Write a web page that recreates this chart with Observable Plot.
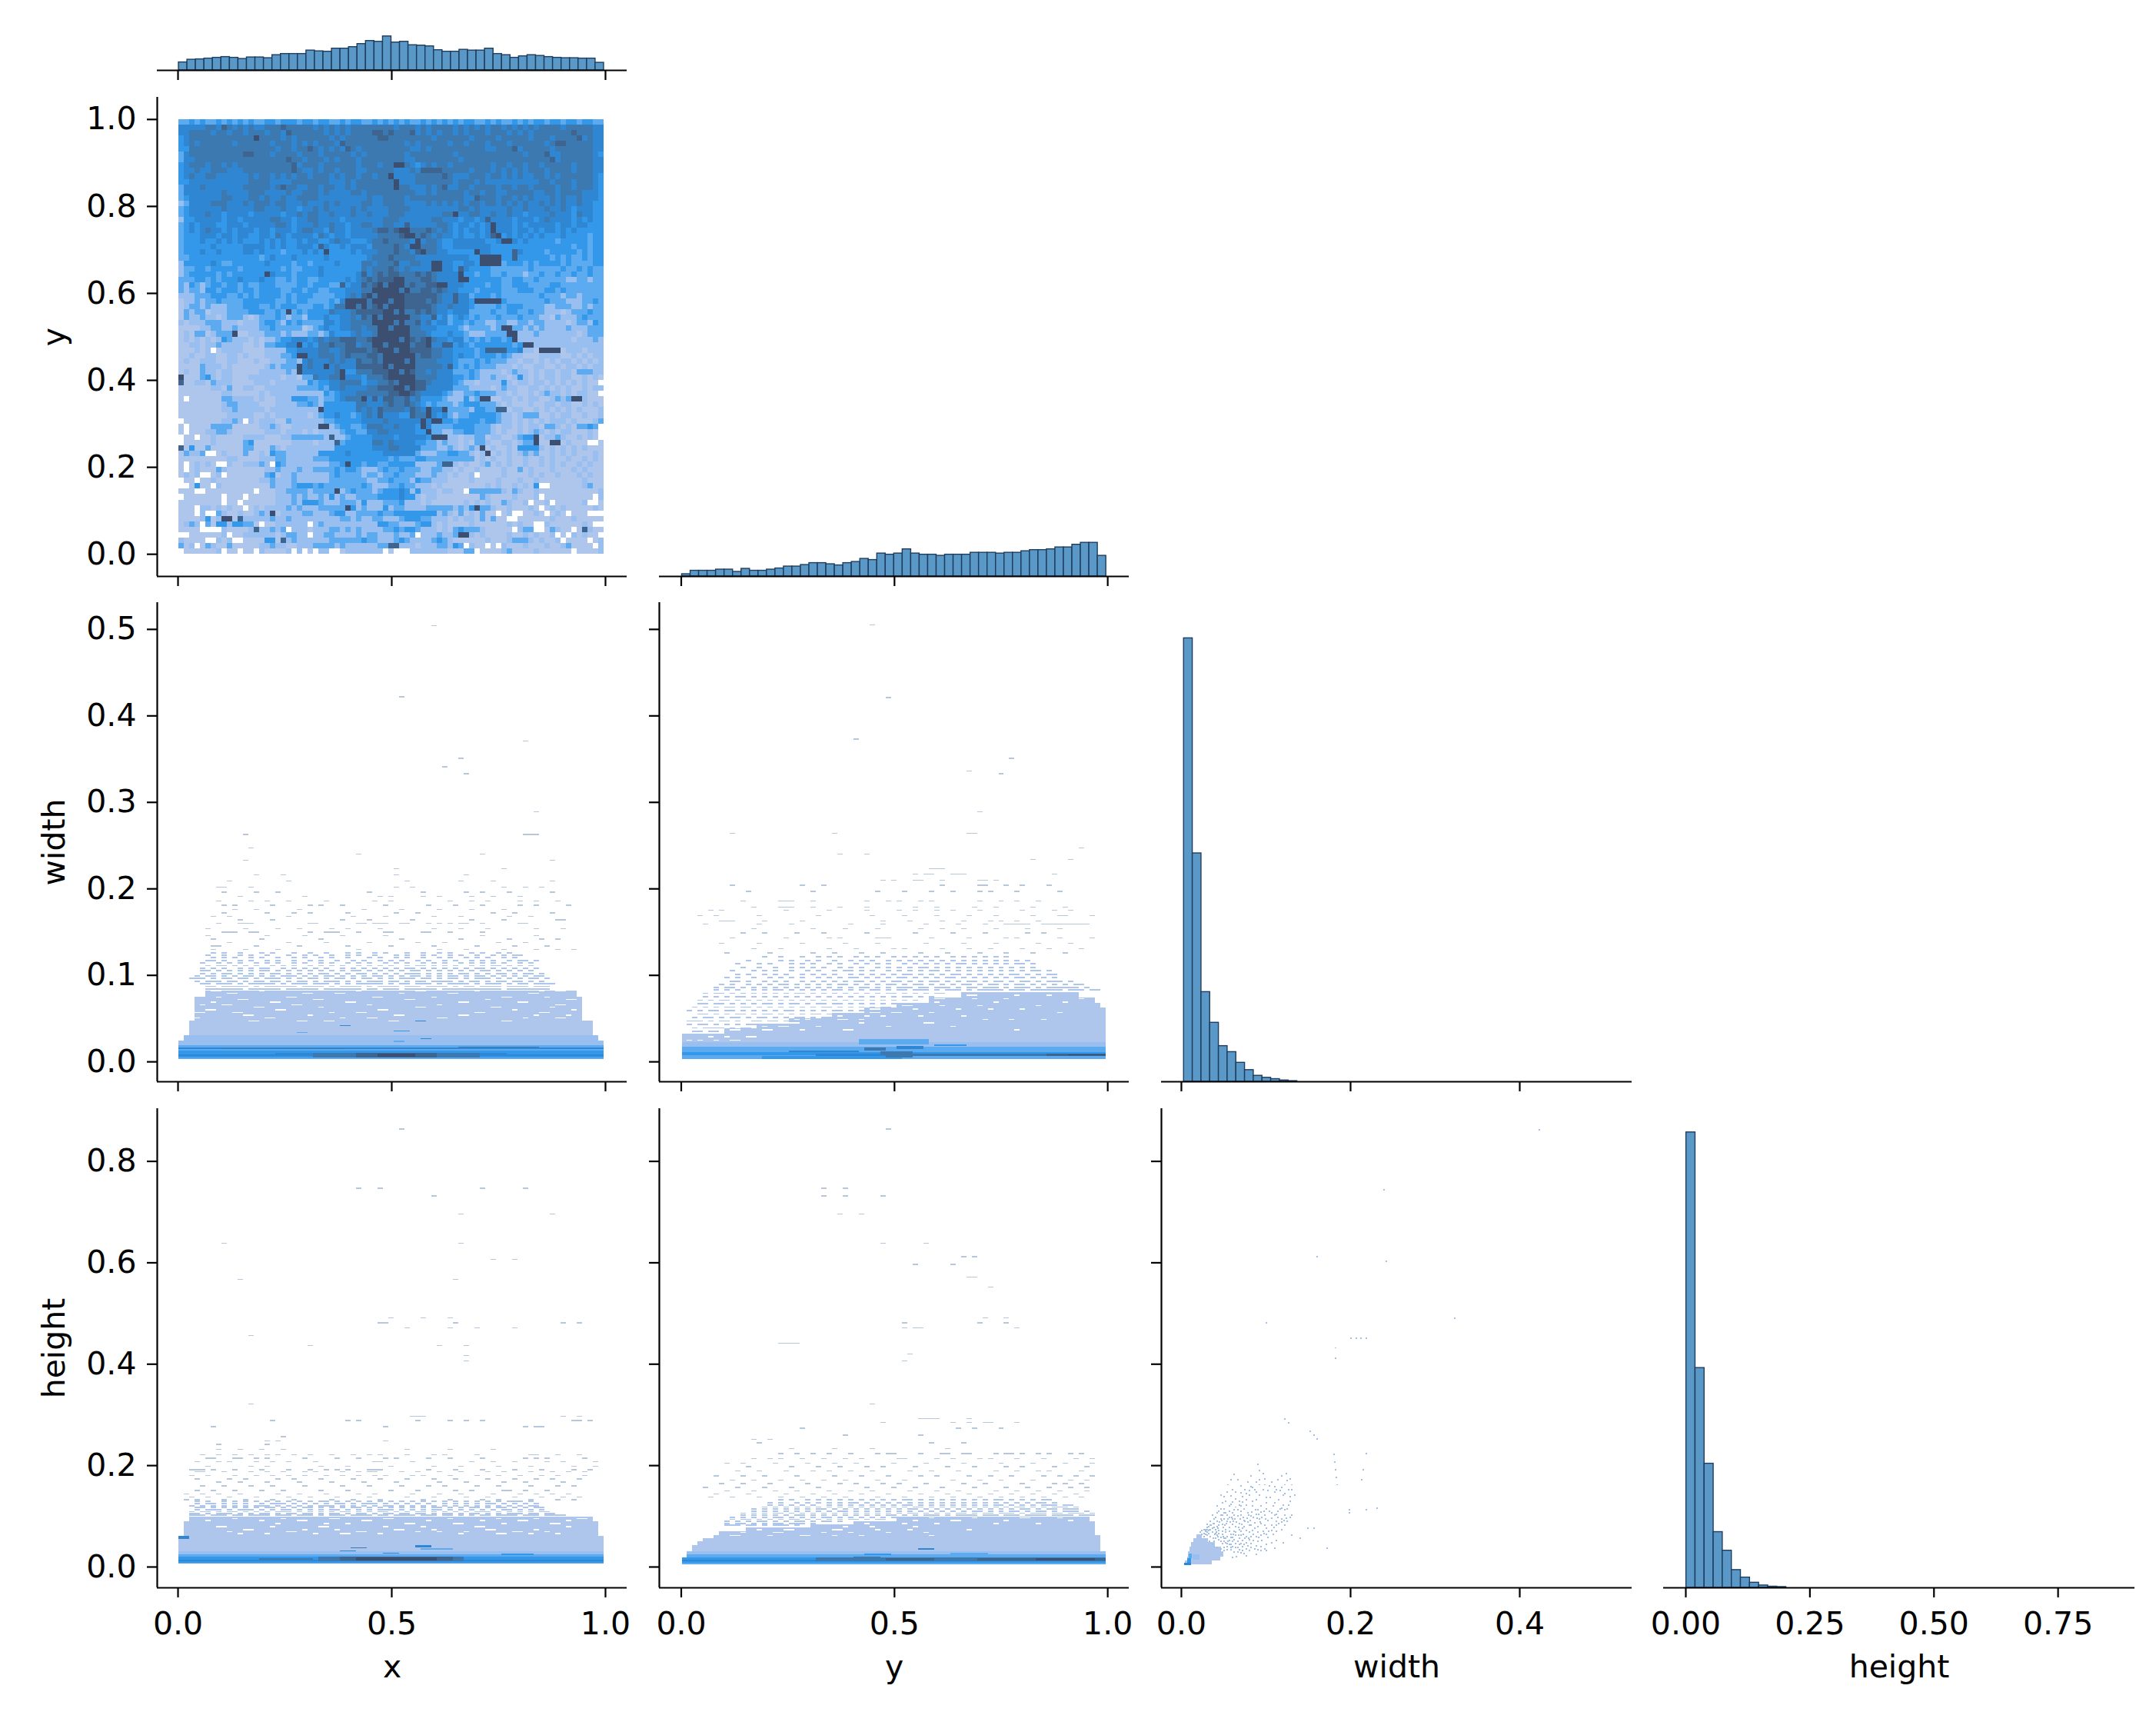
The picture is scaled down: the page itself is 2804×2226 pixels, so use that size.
<!DOCTYPE html>
<html><head><meta charset="utf-8">
<script src="https://cdn.jsdelivr.net/npm/d3@7"></script>
<script src="https://cdn.jsdelivr.net/npm/@observablehq/plot@0.6"></script>
<style>html,body{margin:0;padding:0;background:#fff}#c{position:relative;width:2804px;height:2226px;overflow:hidden}#c svg{position:absolute;overflow:visible}</style>
</head><body><div id="c"></div><script>
// ---- histogram heights (arbitrary count units)
const histX=[21,28,29,31,33,35,33,30,34,34,32,40,43,43,43,52,50,49,57,57,61,69,77,75,89,73,75,66,65,63,53,49,49,54,52,52,57,43,40,33,37,40,38,35,33,32,32,31,31,20];
const histY=[6,15,15,15,18,18,12,20,15,15,18,21,26,26,30,35,35,32,29,35,38,46,43,60,57,60,71,60,57,57,54,57,57,57,62,62,62,60,62,62,66,69,69,71,76,76,83,88,88,54];
const histW=[1330,685,269,177,107,89,57,35,18,12,8,4,2];
const histH=[1152,556,314,141,94,45,26,13,6,3,2];
// ---- x / y 2-D histogram: one string per y bin, top row first; one char per x bin (colour level)
const xyGrid=[
"3343433434 3434334434 4434434433 4344334343 4343343434 3434433434 3343434434 434434433",
"5555566556 5656556666 6666656565 6566666666 5666565666 6565656566 5656565666 656666655",
"5566665665 6656665665 6666666565 6566667766 6665565656 6565666566 6565656666 666666655",
"4566666666 6666666665 6566666656 5666666676 6666666566 6666566665 6666656665 666665655",
"4565666666 5666666566 6565656665 6666666666 6656566666 5665666566 6566666656 666666655",
"4466666666 6666666656 6566665656 5565666666 6665565666 6666666556 6665666665 666666655",
"3566666666 6666666566 6656665666 6656566666 6656666666 6566666666 6666566665 566666654",
"3556666666 6666666666 6665666565 6665666666 6655666666 6656666666 6666666666 566666655",
"4566656656 5666666666 6656665666 6665666566 6665456566 5666666656 6566566566 666566655",
"4556556665 5566666666 6565565665 6665566666 5556566666 6666566656 5656566656 666566655",
"4565566555 5556566565 6566566656 5665665666 5555666666 6555666566 5656556656 566666654",
"4455555555 5556666555 5666666655 5656666666 6555666666 6566656555 5555555665 666566654",
"3555655555 5566666565 6655665665 5656666666 6665556566 5566566665 6656656666 566566654",
"3555555565 5556665555 6556665655 5566566666 6666556566 6665665665 5666665566 566665554",
"3455555566 5556656556 5566665555 5555565566 6656666666 6665556665 6656565556 565565554",
"2355556665 5565666566 5556555656 5555665566 6655556565 6565665665 6565655656 565565544",
"3455555565 5555665556 5545565655 5565655556 6665555555 5566565555 5655655565 565455544",
"3455565545 5554555554 5565665565 5565565556 6655555556 6655665565 5655455556 555465544",
"2445555545 5455555665 5455665555 4555555566 6555555665 5545545455 5545554565 555454544",
"3454555445 5545555566 5455565565 5455665566 5565555566 5455454545 5545455555 455455444",
"3454565545 4555455455 5456655465 5455556665 6555556656 5454554545 5545545455 454544444",
"3444555455 4554455465 4555546545 5455555555 5555565565 5454454544 4545454544 454444344",
"3444544545 4544454545 4454554456 5544455565 5554545554 4555555445 5454544444 344444344",
"3444445444 4455554545 4455545544 5455545555 6545555554 4555555544 4444444444 444344344",
"3444544544 4455454443 4445454444 4454554555 6554545544 4444445544 4445444434 444434344",
"3344444444 4444434544 4544444544 4444455555 5555444444 5555444444 4444444443 434334344",
"2444445433 4444445444 4344344445 4444554555 5445544444 4445544443 3444343444 434333344",
"2334434444 4344444443 4334445444 4444545554 5454444444 4445444433 3333343333 343343433",
"2344444343 4444445544 4344445444 4444445445 5444544444 4444434433 4333233433 433433433",
"3334434344 4544454433 4344334444 4544545555 5444454444 4434444444 3344334333 332233233",
"3243234434 4343344433 3344344433 4344545555 5545445544 4444444344 3344433334 433333333",
"3233244344 4344344443 3443443344 3444544555 5554455455 4434434444 3334443344 343333333",
"2223334443 3434344443 4344433334 3454544555 5555555544 4444344434 3333333433 323323333",
"1223233433 3344444433 4344333343 4454544555 5555554544 4444444334 4333333343 332223343",
"1233232223 3344433434 4433344335 5554445556 5555555444 5444433334 3444333322 333223233",
"1323312223 3334443343 3343444454 4455555555 5444444444 3444333343 3443343322 212333433",
"1322322123 3321233343 2332444433 4443444555 5544433434 2344343334 3334333221 322234333",
"2122233322 2122234432 4343333443 4444444454 5544434344 2333433223 3223323322 221233243",
"1111223322 3222233433 3331234433 4444344454 4554433433 3322333323 3333232322 223222333",
"1213312333 1112223332 3222332243 3334334455 4444443333 4333222333 3222223222 222212333",
"1212121243 2221212234 4555455455 6554455556 5655454444 3443434344 3432222222 222122232",
"1122122322 2211213344 5554545565 5553445555 5655554344 3344344444 4434222222 222222222",
"1112121122 2211112222 4455545544 5555645555 5555555454 4334434544 4445221122 212221222",
"1121122112 2121112223 3455545554 5544455555 5554455454 4344434443 4322111222 211212122",
"1211222112 2111211222 3324544454 5445445455 5555444544 4433343433 3221221212 122121212",
"1111322212 1111112323 3334544445 4445555555 5555444554 4434343332 2212112211 212212122",
"1211322122 1111122222 3224444445 4335545554 5555444544 4333432222 1232212122 122133322",
"1111342122 1112222221 2212254455 5444344455 5555445544 4443432232 2124212122 122112121",
"1112213222 1111222122 2222434444 5555344445 5555555444 4432212222 4212212212 121212112",
"1111112213 1122112222 2233334344 5444455555 5555554444 4333222212 3221122121 212112122",
"1111111122 1111121222 2222222434 4445555545 5555444444 3223343332 2121121232 212122111",
"1111111133 2222121122 2444332334 4555444455 4433433333 2224233211 2212122112 323212111",
"1111111123 3222211122 2233432444 4445544455 4444332333 3234443332 1211121122 122112121",
"1111111122 3222221222 2222223444 4445454454 4433444453 3333244334 2122112121 212121112",
"1111111112 2222112122 2222123445 4434554544 4334554445 3233444443 2212333112 122112112",
"1111111122 3212122211 3222222334 4444544454 4444444444 4344443443 2212121212 221211123",
"1111113333 1111122321 1222223223 4433455544 5444334333 3444433321 2212122133 212133431",
"1111122332 1111112221 2221212222 3443344554 4444333332 2334433321 2112123212 122111212",
"1111112111 1122221112 2333333222 2344444444 3444444222 2212233122 1123443122 321121212",
"1111112111 1134111111 1222212223 3444445545 4444333323 2212133211 2212333112 212111121",
"5141131111 1133111321 2222222224 4444445545 5444433322 3212323121 1214444212 121212111",
"1322311121 1131121433 2222224444 4544444444 4444222233 4433212112 1212323112 121211121",
"1111111112 2111122233 2222233344 4444444443 4333443333 3333312121 1211211212 112112121",
"1212121122 1122232143 2222222233 4344344334 4444222232 1212112312 1211211212 121121211",
"1212111321 1111112232 2232233334 3443222343 3433322332 2121121111 2113121112 111212111",
"1212111221 1111113412 2322222234 3333233233 4333222322 1211211111 2111121211 211121211",
"1113112111 1111122322 2322222233 3333322334 3332433222 1111211112 1112112111 111112111",
"1114111211 1111111322 2344434333 3333432223 3433222121 1111111212 1121214111 111112311",
"1111111111 1111111122 3333233333 2343332344 4542422212 2113333333 2132112111 111111112",
"1111111111 1111111122 2323223242 3223333444 4544212211 1111113211 1121112111 111111112",
"1111111111 1111111122 2324443222 3332422233 3422212111 1112121211 3211211121 111112111",
"1112221212 1121212222 3232223333 3342322242 3322223333 3232433321 1211121112 121111121",
"1112211321 1211232112 2223322234 4223333433 4444444423 2131213112 1251112111 211111212",
"1111241211 1122222322 3222222222 3323223322 2344433222 1212213131 1211111112 111211111",
"1232131442 4433111122 2222223222 2222222443 3222344212 1111211111 1212111121 111112111",
"1111113221 1112122323 2222122233 2323222233 4344322212 1343332111 1132332113 211111211",
"1111111122 1122222212 3322222332 2223233222 3223322232 2323212111 1211212112 111212111",
"2111111212 1111114412 2322222233 3333433222 3432222343 2111111211 1233321211 211111112",
"3121132113 1111122322 1122233332 3222222333 2222122233 2433211111 2111211121 123111112",
"1111111211 1111121111 2222112221 1222222211 1112222222 1113321111 2311112111 111111112"];
// rows whose bins are one colour step darker: [row,from,to]
const xyRaised=[[20,37,46],[21,37,46],[22,36,47],[23,36,47],[24,36,49],[25,36,49],[26,34,50],[27,34,50],[28,33,52],[29,33,52],[30,30,52],[31,30,52],[32,30,53],[33,30,53],[34,28,53],[35,28,53],[36,27,52],[37,27,52],[38,27,52],[39,27,52],[40,26,52],[41,26,52],[42,25,52],[43,25,52],[44,23,50],[45,23,50],[46,23,50],[47,23,50],[48,28,50],[49,28,50],[50,30,48],[51,30,48],[52,33,47],[53,33,47],[54,35,47],[55,35,47],[56,35,46],[57,35,46],[58,36,45],[59,36,45],[60,38,44],[61,38,44]];
const xyRaisedCentre=[[28,37,47],[29,37,47],[30,35,48],[31,35,48],[32,34,48],[33,34,48],[34,33,47],[35,33,47],[36,32,46],[37,32,46],[38,32,46],[39,32,46],[40,31,47],[41,31,47],[42,31,47],[43,31,47],[44,33,46],[45,33,46],[46,35,45],[47,35,45],[48,37,45],[49,37,45],[50,38,44],[51,38,44],[52,39,44],[53,39,44]];
// rows with solid darkest runs: [row,from,to]
const xyCoreSpans=[[29,40,41],[30,37,41],[31,36,42],[32,35,41],[33,31,41],[34,31,34],[34,37,41],[35,38,41],[36,36,42],[37,36,42],[38,36,43],[39,36,42],[40,36,42],[41,36,43],[42,37,42],[43,37,43],[44,38,43],[45,38,43],[46,39,42],[47,39,43],[48,40,43],[49,40,43],[50,41,42]];
// lighter specks inside the darkest runs, [x bin, y bin]
const xyCoreSpecks=[[38,30],[41,31],[36,32],[39,33],[33,34],[40,35],[37,36],[42,37],[39,38],[36,39],[41,40],[38,41],[43,41],[40,42],[37,43],[42,44],[39,45],[41,46],[40,48],[42,49],[35,33],[38,34],[36,38],[40,37],[43,38]];
// cells overriding the grid, [x bin, y bin]
const xyDarkest=[[14,3],[27,24],[16,28],[10,39],[20,35],[22,41],[22,43],[23,43],[22,45],[22,46],[27,45],[30,46],[30,47],[0,47],[34,51],[26,53],[26,56],[27,56],[31,63],[29,68],[31,71],[8,73],[9,73],[17,72],[40,8],[41,8],[39,10],[40,11],[40,12],[51,17],[58,19],[58,20],[59,21],[60,22],[61,22],[55,24],[56,25],[57,25],[58,25],[59,25],[56,26],[57,26],[58,26],[59,26],[47,26],[48,26],[47,27],[48,27],[52,28],[52,29],[53,29],[48,30],[49,30],[55,33],[56,33],[57,33],[58,33],[59,33],[60,38],[61,38],[61,39],[62,39],[62,40],[64,41],[65,41],[67,42],[68,42],[69,42],[70,42],[56,51],[57,51],[46,40],[46,41],[46,53],[46,54],[47,55],[49,53],[45,55],[45,56],[46,57],[48,58],[49,58],[47,58],[48,55],[66,58],[66,59],[69,59],[70,59],[56,60],[57,61],[52,76],[53,76],[55,71],[73,51],[74,51],[42,21],[41,20],[42,20],[43,21],[44,22],[43,23],[44,23],[45,24]];
const xyDark=[[21,8],[21,9],[20,7],[19,12],[26,23],[30,30],[34,28],[35,29],[34,30],[37,28],[37,29],[37,30],[33,35],[34,36],[0,48],[36,51],[37,53],[37,54],[28,58],[29,59],[11,73],[14,75],[19,77],[0,60],[45,9],[46,9],[47,9],[48,9],[49,10],[49,12],[55,14],[57,18],[58,21],[42,19],[41,21],[44,24],[62,24],[62,25],[39,25],[40,26],[39,27],[40,28],[46,28],[46,29],[52,27],[51,32],[51,33],[43,34],[44,35],[45,34],[46,35],[47,36],[44,37],[49,41],[50,41],[57,42],[58,42],[59,42],[60,42],[50,45],[40,49],[42,51],[42,52],[43,53],[43,54],[59,53],[60,53],[75,75],[39,78],[40,78],[49,63],[50,63],[36,2],[37,3],[39,2],[43,2],[8,1],[19,1],[20,2],[73,2],[74,3],[70,4],[71,4],[30,4],[31,5],[24,5],[12,6],[13,6],[62,5],[68,6],[69,7]];
const xyWhite=[[6,42],[1,51],[12,55],[0,55],[1,56],[1,57],[3,58],[0,58],[0,59],[5,61],[6,61],[7,63],[8,63],[1,63],[1,64],[17,63],[4,65],[5,65],[8,65],[3,66],[0,66],[1,67],[0,67],[6,67],[3,68],[4,68],[14,68],[8,69],[8,70],[12,69],[11,70],[12,71],[3,71],[3,72],[5,72],[6,72],[0,69],[4,74],[15,74],[24,74],[4,75],[5,75],[6,75],[7,75],[20,75],[0,76],[1,76],[9,76],[24,76],[5,77],[6,77],[10,77],[11,77],[3,78],[0,79],[8,79],[11,79],[14,79],[21,79],[23,79],[25,79],[28,79],[29,79],[38,79],[78,56],[78,57],[78,58],[76,59],[77,59],[78,48],[78,50],[55,65],[67,67],[68,67],[53,68],[67,69],[77,69],[65,70],[69,70],[76,70],[77,70],[67,71],[59,72],[62,72],[63,72],[68,72],[72,72],[76,72],[77,72],[78,72],[61,73],[62,73],[66,74],[67,74],[66,75],[67,75],[77,74],[78,74],[62,75],[73,75],[44,76],[70,76],[72,76],[78,76],[71,77],[76,77],[53,78],[57,78],[59,78],[77,78],[40,79],[41,79],[42,79],[55,79],[73,79]];
// ---- x / width cells: bands [yLo,yHi,binFrom,binTo,level] in thousandths
const xWBands=[[3,4.5,0,78,3],[4.5,6.5,0,78,4],[6.5,8.5,0,78,5],[8.5,10,0,78,4],[10,12.5,0,78,4],[12.5,14,0,78,3],[14,16,0,78,5],[16,19,0,78,3],[19,24,0,78,2],[24,30,1,77,2],[30,47,2,76,1],[47,75,3,74,1],[75,82,5,73,1],[7,10,18,60,5],[4.5,10,25,55,6],[5,10,33,47,7],[5.5,9,37,43,8],[14,15,8,30,6],[16,17,52,66,6],[22,24,40,41,3],[26,27,45,46,5],[35,36,40,42,4],[41,42,30,31,5],[46,47,44,45,5],[33,34,22,23,3]];
const xWHoles=[[46,[13,14,22,23,27,28,39,40,60,61]],[50,[2,3,16,17,30,35,36,48,49,64,70,71]],[53,[12,13,24,40,41,52,53,66,72]],[56,[3,4,10,11,28,33,34,55,56,67,68]],[59,[5,6,18,19,37,38,62,73]],[62,[14,15,26,44,45,58,59,69]],[65,[4,8,9,21,22,35,48,70,71]],[68,[6,17,18,31,32,52,53,63,64]],[71,[11,12,25,26,42,43,57,72,73]],[74,[7,20,21,36,37,47,60,61,68]],[78,[9,10,23,24,29,30,41,50,51,65,66]],[81,[6,7,15,33,44,45,55,67,70,71]]];
const xWPat=[[83,".....1111111.111111.111111.1111111.11.111.111111.11111111111.11111111"],[86,".....11.11111.1.111111.1111.1.1111.1.1111.111.1111.1.11.1111.1111.111"],[89,"....11.111.1.11111.1.111.111.1.1.11111.1.11.111.1.1111.1.111.1.11.1111"],[92,"...1.111.11.1.11.11.1.11.1.111.1.1.111.11.1.11.1111.1.11.1.11.11.1.1"],[95,"..111.1.11.11.1.111.1.1.11.1.11.1.11.1.1.111.11.1.11.1.111.1.1.1.11.1"],[98,"...1.11.1.1.11.1.1.111.1.1.11.1.1.1.11.1.1.11.1.1.11.1.11.1.1.1.1.11"],[101,"....1.1.11.1.1.1.11.1.1.1.11.1.1.11.1.1.1.111.1.1.1.11.1.1.11.1.11.1"],[104,"....11.1.1.1.1.11.1.1.1.1.1.1.1.11.1.1.1.1.11.1.1.1.1.1.11.1.1.1.1"],[107,"....1.1.1..1.1.11..1.1.1.1.1..1.1.1.1.1.1.11.1.1.1.1.1.11.1.1.1.1.1"],[110,".....1.11.1.1.1..1.1.1..1.1.1.1..1.1.1.1..1.11.1.1.1..1.1.11.1.1.1"],[113,"....1..1.1.1..1.1.1..1.1..1.1..1.1.1..1.1.1..1.1.1..1.1.1.1.1..1.1"],[116,".....11.1..1.1..1.1..1..1.1..1..1.1..1.1.1..1.1..1.1..1.1.1..1.11.1"],[119,"......1.1.1..1.1..1..1.1..1.1..1...1.1..1.1..1..1.1..1.1.1..1.1"],[122,".....1..1..1.1..1...1..1.1..1..1.1..1...1.1..1.1..1.1..1..1.1.11"],[125,"......1.1..1...1.1...1..1..1...1.1..1.1...1..1..1.1...1.1..1.1"]];
const xWSparse=[[129,[6,12,18,33,48,53,60,66,70,73]],[133,[6,7,14,22,31,39,47,55,62,68]],[137,[9,20,27,35,44,49,59,64]],[141,[6,15,26,41,52,61,67,70]],[145,[5,16,23,30,38,56,66]],[149,[8,9,10,13,14,24,27,28,29,33,38,39,45,46,50,56]],[153,[5,12,18,22,28,31,37,47,52,57,66,71]],[159,[7,11,12,13,24,25,33,34,36,37,38,41,42,46,48,50,52,53,56,63,64]],[163,[11,17,30,35,43,54,60,70,71]],[167,[6,9,20,32,38,47,52,61,65]],[171,[8,16,21,24,31,40,44,58,62,69]],[175,[10,14,22,34,41,48,54,60]],[180,[8,10,17,24,26,30,38,46,51,56,63,66,72]],[185,[7,13,16,20,27,36,39,50,54,57,63,66,70]],[190,[11,23,37,39,45,48,54,58,63]],[195,[8,14,18,35,45,53,56,61,69]],[201,[7,8,13,40,43,60,64,67]],[208,[9,20,42,52,58,69]],[215,[14,19,40,53]],[222,[40,60]],[232,[12,69]],[239,[33,56]],[246,[13]],[262,[12,64,65,66]],[288,[66]],[332,[53]],[340,[49]],[350,[52]],[370,[64]],[421,[41]],[503,[47]]];
// ---- y / width cells
const yWBands=[[3,5,0,78,3],[5,7,0,78,3],[7,9,0,78,4],[9,11,0,78,4],[11,14,0,78,3],[14,17,0,78,3],[17,22,0,78,2],[22,32,0,78,1],[32,38,8,78,1],[38,44,14,78,1],[44,50,20,78,1],[50,56,28,78,1],[56,62,34,78,1],[62,68,40,77,1],[68,74,46,76,1],[74,80,52,73,1],[3,6,15,40,4],[6,9,25,78,5],[6,9,40,78,6],[6.5,9,68,78,7],[7,8.5,72,78,8],[5,7,38,42,6],[13,16,34,37,6],[14,18,40,44,5],[7,12,37,42,6],[18,20,47,52,4],[20,26,33,45,3],[11,13,20,32,5]];
const yWHoles=[[24,[1,3,6,9,10]],[28,[5,8,12,13]],[36,[9,10,15,16,22,30,31,62]],[40,[15,18,19,25,38,50]],[44,[16,20,21,33,45,46]],[48,[21,23,29,30,33,56,61,67]],[52,[29,24,25,34,37,44,52]],[56,[35,36,39,40,46,70]],[60,[35,36,43,51,57,63]],[64,[41,42,48,55,66]],[68,[41,44,47,58,71]],[72,[47,48,54,60,74]],[76,[53,54,62,68]]];
const yWPat=[[34,"..11.11.1111..11.1"],[38,"..1.1111.1.11.111.11.11"],[42,".1.11.1.1.1.1111.11.1.111.1"],[46,".111.1.11.1..11.11.1.1.11.1"],[50,"..1.11.1.11.1.11.1.1.11.1.11"],[54,"...11.1.1.11.1.11.1.1.1.11.1.1.11.1"],[58,".1.1.11.11.1.1.1.1.11.1.1.1.11.1.1.1.1"],[62,"..1.1.1.11.11.1.1.1.1.1.1.11.1.1.1.1.11.1"],[66,"...11.11.1.1.1.11.1.11.1.11.11.1.1.1.1.1.11"],[70,"...1.1.11.1.1.1.1.1.1.1.1.1.1.1.11.1.1.1.1.1"],[74,"....1.1.1.11.1.1.1.1.1.1.1.1.1.1.1.1.1.1.11.1.1"],[78,"....1.11.1.1.1.1.1.1.11.1.1.1.1.1.1.1.11.1.1.1.11"],[82,"......1.1.1..1.1.11.1.1.1.1.11.1.1.11.1.11.111.1.111.1.11111.111.111111.111.11"],[85,"......1.11.1.1.1.1.1.1.1.1.1.1.1.11.1.1.111.11.111.1.11.111.1.111.1.111111.1"],[88,".......1.1..1.1.1.11.1.1.1.1.11.1.1.1.11.1.11.1.1.1.11.1.11.1.11.1.1.1.1.11"],[92,".........11.1..1.1.1..1.1.1.1.1.11.1.1.11.1.1.11.1.1.11.1.11.1.11.1.111.1"],[96,"........1.1..1..1.1.1.1..1.1.1.11.1.1.1.11.1.1.1.11.1.1.1.1.1.11.1.1.1"],[100,"..........1.1..1.1.1..1.1.1.1..1.1.1.1.1.11.1.1.1.11.1.1.1.1.11.1.1.11"],[104,".........1...1.1.1..1..1.1..1.11.1.1..1.1.1.1.11.1.1.1.1.1.1.1.1.11.1"],[108,"...........1..1..1..1.1.1.1..1.1.1..1.1.1.1.11.1.1.1.1.1.1.1.1.1.1"],[112,"..........1...1.1...1.1.1..1.1..1.1.1.1..1.1.1.1.1.11.1.1.1.1.11.1"],[116,"............1.....1.1..1.1..1..1.1.1..1.1.1.1.1.1.1.1.1.1.1.1.1.1"],[120,"...............1..1...1..1.1.1..1.1.1..1.1.1.1.1..1.1.1.1.1.1"]];
const yWSparse=[[125,[8,16,24,28,33,37,44,49,55,60,65,71]],[130,[13,18,27,32,39,41,48,53,57,63,68,74]],[136,[7,14,22,30,36,45,52,58,66,72]],[142,[9,19,27,29,36,37,38,46,53,60,62,70,76]],[148,[11,15,21,26,34,43,50,56,64,67]],[153,[13,24,30,36,44,48,52,58,64,70]],[158,[4,14,20,31,37,45,51,56,60,61,62,63,64,67,68,69,70,71,72,73,74,75]],[162,[7,8,9,15,22,37,42,48,52,57,59,62,66]],[168,[3,6,14,25,35,41,47,53,58,65,70,71,76]],[174,[5,7,19,27,34,40,43,47,50,55,63,69,72]],[178,[13,18,19,20,24,29,34,43,47,54,58,65,71]],[185,[11,18,19,20,24,34,38,40,44,46,55,59,62,66]],[196,[12,24,36,41,46,50,55,57,62,70]],[203,[9,22,26,55,56,48,60,63,68]],[209,[37,39,43,44,48,55,56,58]],[216,[43,50,51,52,69,45,46]],[222,[48,46,47]],[233,[65,72]],[239,[29,34]],[246,[74]],[263,[9,28,53,54]],[288,[55]],[332,[59]],[335,[53]],[350,[61]],[372,[32]],[420,[38]],[504,[35]]];
// ---- x / height cells
const xHBands=[[6,8,0,78,3],[8,11,0,78,4],[11,14,0,78,5],[14,19,0,78,4],[19,24,0,78,3],[24,31,0,78,2],[31,60,0,78,1],[60,90,1,77,1],[90,98,2,76,1],[11,20,26,52,6],[12,19,30,50,7],[12,18,33,47,8],[14,16,15,24,6],[22,25,60,65,4],[26,28,38,40,5],[30,32,30,32,5],[36,38,32,34,6],[48,49,38,41,4],[33,36,45,50,3],[38,42,44,46,5],[55,60,0,1,5]];
const xHHoles=[[64,[11,16,25,30,31,37,52,59,60,65,70]],[68,[9,20,21,33,34,44,48,53,62,63,68]],[72,[12,13,23,29,40,41,47,57,58,66]],[78,[7,8,17,26,27,38,45,55,56,72]],[84,[18,27,31,42,43,51,52,60,69,70]],[90,[5,15,22,23,34,35,46,56,63,64,72]],[94,[10,19,28,29,38,39,50,59,66,74,75]]];
const xHPat=[[100,"..111.111.11.1111.111.111.1.111.1111.11.1111.111.11.1.1.11.1111.111.1111"],[103,"..11.1.111.1.1.11.1.11.11.1.11.1.11.1.11.11.11.1.11.1.11.1.1.111.11.11"],[107,"..1.11.1.11.1.1.1.111.1.1.1.1.11.1.1.11.1.1.11.1.1.1.1.111.1.1.1.1.11"],[111,"...1.111.1.111.1.1.11.1.1.1.11.1.1.1.111.1.1.1.11.1.1.1.1.1.11.1.1.1"],[115,"...11.1.1.1.1.1.11.1.1.11.1.1.1.11.1.1.1.1.1.1.11.1.1.11.1.11.1.1.11"],[119,"..1.1.1.1.1.1.111.1.1.1.1.111.1.1.1.1.11.1.1.1.1.1.1.1.1.1.1.1.1.11"],[123,"...1.11.1.1.1..1.111.1.1.1.1.11.1.111.1.1.1.1.1..1.1.1.1.11.1.1.1.1"],[127,"...1.1..1.1.1.1.1.1.1.1.1.11.1.1.1.1.1.1.1.1.1.1.1.1.1.1.1.1.111.1"]];
const xHSparse=[[131,[1,3,8,12,17,21,28,32,37,45,50,56,59,65,70,73]],[136,[2,5,9,14,20,24,29,35,42,47,53,57,62,67,71,74]],[142,[1,4,7,11,18,22,27,33,36,43,48,52,58,63,66,69,72]],[149,[3,6,10,15,19,26,31,39,44,51,54,60,61,64,68]],[158,[4,8,13,17,23,30,35,41,46,49,55,59,65,70,73]],[166,[7,11,16,22,28,34,40,48,53,60,64,71]],[172,[3,9,12,18,21,26,32,37,42,47,51,57,62,66,69,74]],[179,[2,5,10,14,17,20,23,27,30,33,36,38,43,45,50,55,59,63,67,70,75]],[186,[3,4,8,13,16,19,23,25,30,33,35,36,41,44,48,52,57,60,65,69,72,75]],[190,[2,3,4,6,10,15,20,24,27,29,31,35,36,37,46,51,56,62,67,73,76]],[197,[5,13,16,26,31,39,47,52,59,65,73,77]],[206,[3,7,9,14,17,20,25,36,37,43,54,58,62,68,71,77]],[213,[5,6,10,11,14,16,23,29,33,38,40,46,50,56,64,66,68,75]],[220,[4,7,10,13,16,18,21,24,28,32,35,37,42,47,49,55,65,66,70,74]],[230,[7,11,15,19,42,50,58]],[240,[7,16]],[247,[16,18,38]],[255,[19]],[275,[6,38,64,66,67]],[287,[17,31,33,44,50,53,56,73,74,76]],[295,[43,44,45,71,74]],[320,[13]],[405,[53]],[415,[53]],[435,[24,48,53]],[455,[13]],[470,[42,50,55,62]],[480,[37,38,51,71,74]],[490,[39,45,50]],[565,[11,51]],[605,[58,62]],[637,[8,52]],[694,[52,69]],[730,[47]],[745,[33,37,56,64]],[862,[41]]];
// ---- y / height cells
const yHBands=[[4,7,0,78,3],[7,10,0,78,4],[10,14,0,78,5],[14,18,0,78,4],[18,24,1,78,3],[24,30,1,78,2],[30,42,2,77,1],[42,50,3,77,1],[50,56,4,77,1],[56,62,6,77,1],[62,70,7,76,1],[70,78,12,76,1],[78,84,24,76,1],[84,90,32,76,1],[90,98,40,75,1],[11,18,25,78,6],[12,17,55,78,7],[12,16,66,76,8],[12,16,38,46,7],[14,20,32,36,6],[24,28,50,56,3],[34,36,44,46,5],[22,26,34,38,4]];
const yHHoles=[[60,[9,10,16,22,23,28,33,46]],[66,[11,17,18,26,31,38,45]],[72,[14,19,20,28,29,36,42,53]],[78,[16,22,30,35,43]],[84,[26,34,41,47,58,66]],[90,[43,50,51,60,72]],[95,[46,54,63,64,70]]];
const yHPat=[[80,"........111.11.1.111.1"],[84,"........1.11.1.1.11.111.1"],[88,"........1.1.1.11.1.1.11.1.11.1"],[92,".........1.11.1.1.1.11.1.1.1.1.11.1.11"],[96,".........1.1.1.1.11.1.1.1.11.1.1.1.1.1.1"],[100,"...........1.1.1.1.1.11.1.1.1.1.1.1.1.11.1.1.111.1.1111.111.111.1111.1111.111"],[104,"...........1.1.1.11.1.1.1.1.1.1.1.1.1.1.1.11.1.1.1.11.1.11.111.1.111.11.111.1"],[108,".............1.1.1.1.1.1.1.1.11.1.1.1.1.1.1.1.1.1.1.1.11.1.1.11.1.11.1.111.1"],[112,".............1.1.1.1.1.1.11.1.1.1.1.1.1.1.11.1.1.1.1.1.1.1.1.1.11.1.11.111"],[116,"...............1.1.1.1.1.1.1.1.1.1.1.1.1.1.11.1.1.1.1.1.1.1.1.11.1.1.111.1"],[120,"................1.1.1.1.1..1.1.1.1.1.1.1.11.1.1.1.1.1.1.1.11.1.1.1.111.11"],[125,"................1.1..1.1.1.1.1.11.1.1.1.1.1.1.1.1.1.1.1.1.1.1.1.1.11.1"],[130,"..................1.1..1.1.1.1.1.1.1.1.1.11.1.1.1.1.1.1.1.11.1.1.1.11"]];
const yHSparse=[[136,[5,9,14,18,22,26,30,36,41,46,50,55,59,63,67,71,74]],[142,[6,12,19,24,28,33,38,44,49,53,57,61,65,69,73]],[148,[8,13,17,21,27,31,35,42,47,51,58,62,66,70,75]],[155,[4,10,15,20,25,34,39,43,48,54,60,64,68,72,75]],[163,[7,11,16,23,29,32,37,40,45,52,56,63,69,71,74]],[170,[9,13,18,22,26,30,36,41,50,55,59,65,72,75]],[178,[6,11,15,21,28,33,38,44,47,53,57,61,67,70,73,76]],[188,[10,14,19,24,27,31,35,42,46,51,58,62,66,68,74]],[196,[12,20,25,29,34,37,43,49,54,60,63,69,75]],[203,[8,11,17,23,28,32,39,45,52,59,65,71,76]],[212,[13,16,18,22,26,30,33,40,41,47,50,55,57,62,67,73,76]],[222,[18,21,24,27,31,36,38,39,44,48,49,52,53,58,60,61,63,66,68,72,74]],[232,[20,28,35,49]],[243,[14,46,52]],[250,[13,16]],[258,[30,44]],[272,[22,51,54,59]],[283,[37,50,53,56,57,62]],[291,[44,45,46,47,53]],[320,[35]],[405,[41]],[418,[42]],[440,[18,19,20,21]],[470,[41,43,44,62]],[480,[41,55,60]],[490,[56,60]],[550,[57]],[570,[53,54]],[595,[43,50]],[610,[52,54]],[637,[37,45]],[694,[29,33]],[730,[26,30,37]],[745,[26,30]],[862,[38]]];
// ---- width / height cells: pale core rectangles [hLo,hHi,wLo,wHi,level], thousandths
const wHCore=[[4,12,5,36,1],[12,20,7,46,1],[20,30,8,50,1],[30,40,10,47,1],[40,48,12,40,1],[48,56,15,32,1],[56,64,18,25,1],[3,8,4,12,5],[8,16,7,12,4],[16,26,9,13,3],[14,24,14,22,2]];
// width, height pairs of isolated cells, thousandths
const wHDots=[423,860,239,742,242,600,160,610,100,480,323,488,200,449,206,449,212,449,218,449,182,430,182,410,122,289,126,282,152,265,156,258,160,250,180,220,181,205,182,190,183,175,184,160,218,222,215,190,213,170,198,110,198,104,218,110,231,113,172,35,149,74,156,74,130,60,140,55,120,45,110,35,100,30,88,22,76,20,65,18,60,16,
55,160,60,150,58,138,64,145,48,125,42,118,52,128,44,108,36,100,40,95,46,100,50,112,56,118,60,126,62,110,68,128,72,136,75,150,78,165,82,178,96,182,98,172,92,160,86,150,80,140,84,128,76,120,70,108,66,98,60,92,54,88,48,82,42,78,36,74,32,70,30,82,28,62,26,58,
90,110,94,118,100,125,105,135,110,145,112,150,118,155,122,160,125,168,128,172,130,160,126,150,120,140,115,130,108,118,104,108,98,100,92,92,86,85,80,80,74,78,68,72,62,68,58,62,54,58,50,54,
70,60,75,55,80,52,85,50,90,48,95,50,102,56,108,62,112,68,118,72,122,80,125,88,128,96,118,92,112,88,106,80,100,74,96,68,90,66,84,70,80,66,76,70,72,74,68,84,64,78,60,82,56,76,52,72,48,68,44,64,
60,48,64,44,68,42,72,38,76,34,80,30,66,36,58,36,54,32,50,30,
38,92,34,88,30,76,32,64,36,66,40,72,44,70,48,62,52,66,56,68,44,80,50,92,56,96,62,100,70,118,74,112,78,104,82,98,88,102,94,106,100,112,106,104,112,102,116,112,120,120,110,125,100,135,92,140,88,130,84,118,
46,140,50,136,54,146,58,170,62,180,66,170,70,158,90,200,92,188,96,150,102,148,106,165,114,170,118,178,124,182,130,150,134,140,128,128,125,112,130,100,122,100,114,96,
40,55,44,52,48,44,52,46,56,50,60,56,64,60,68,54,72,50,76,46,82,44,88,40,94,38,100,42,106,46,112,50,
30,66,33,72,35,80,37,84,39,62,41,66,43,74,45,86,47,90,49,76,51,80,53,84,55,92,57,86,59,96,61,88,63,92,65,86,67,76,69,92,71,82,73,96,75,88,77,94,79,100,81,90,83,106,85,96,87,110,89,94,91,102,93,86,95,96,97,108,99,92,
38,48,42,60,46,56,50,48,54,44,58,42,62,52,66,48,70,44,74,42,78,40,82,36,86,34,90,32,94,30,98,34,56,42,60,38,64,36,68,32,72,30,
34,58,37,54,40,64,43,58,46,48,49,58,52,54,55,48,58,56,61,62,64,66,67,60,70,68,73,62,76,58,79,54,82,58,85,62,88,58,91,56,94,60,97,64,100,62,103,68,106,70,109,76,112,80,115,84,118,86,121,90,124,94,
28,72,30,60,33,48,36,42,38,38,42,36,46,34,50,36,54,38,58,32,62,28,66,28,70,26,74,24,34,80,38,84,42,88,46,92,48,100,52,104,56,108,60,104,64,116,68,120,72,126,76,130,80,148,84,155,88,166,92,170,
66,110,70,100,74,90,78,86,82,80,86,74,90,78,94,84,98,80,102,90,106,94,110,100,114,108,118,114,122,110,126,120,128,136,122,142,116,148,110,156,104,158,98,160,88,146,82,156,76,142,70,144,64,132,58,122,
54,100,50,104,46,112,42,104,38,76,34,72,32,78,30,72,28,68,26,64,24,70,24,62,22,66,26,72];
// ---- axis ticks
const xyTicks=[0,0.5,1], yTicksXY=[0,0.2,0.4,0.6,0.8,1], widthTicks=[0,0.1,0.2,0.3,0.4,0.5], heightTicks=[0,0.2,0.4,0.6,0.8], wTicks=[0,0.2,0.4], hTicks=[0,0.25,0.5,0.75];
const names=["x","y","width","height"];
// ---- colour levels
const levels=[0,1,2,3,4,5,6,7,8,9,10];
const palette=["#ffffff","#afc6ec","#98bff0","#5cabf0","#3498ea","#2f86d2","#3b79b0","#3d6590","#3c4f70","#b6c7dc","#a3bfe2"];
const black="#000", F="DejaVu Sans", FS=41;

// scale limits and boxes
const colDom=[[-0.0486,1.0504],[-0.0514,1.0502],[-0.0236,0.5327],[-0.0449,0.9047]];
const rowDom=[null,[-0.051,1.051],[-0.023,0.531],[-0.041,0.904]];
const colBox=[[204,815],[857,1468],[1510,2122],[2163,2776]];
const rowBox=[[12,91],[126,749],[783,1406],[1441,2064]];
const colTicks=[xyTicks,xyTicks,wTicks,hTicks];
const rowTicks=[null,yTicksXY,widthTicks,heightTicks];
const xLo=0.0018, xStep=0.01259, yStepTop=0.0125;

function panel(c,r,marks,yDom){
  const bottomRow=r===3, leftCol=c===0, diag=c===r-0&&c>0||r===0;
  const [x0,x1]=colBox[c],[y0,y1]=rowBox[r];
  const ml=leftCol?204:50, mb=bottomRow?162:30, mt=10, mr=30;
  const left=x0-ml, top=y0-mt;
  const all=[...marks,
    Plot.ruleY([yDom[0]],{stroke:black,strokeWidth:2.2}),
    Plot.axisX(colTicks[c],{anchor:"bottom",tickSize:13,tickPadding:18,strokeWidth:2.2,fontSize:FS,label:null,tickFormat:bottomRow?(c===3?d=>d.toFixed(2):d=>d.toFixed(1)):()=>""})];
  if(!diag){
    all.push(Plot.ruleX([colDom[c][0]],{stroke:black,strokeWidth:2.2}));
    all.push(Plot.axisY(rowTicks[r],{anchor:"left",tickSize:13,tickPadding:14,strokeWidth:2.2,fontSize:FS,label:null,tickFormat:leftCol?d=>d.toFixed(1):()=>""}));
  }
  if(bottomRow) all.push(Plot.text([names[c]],{text:d=>d,frameAnchor:"bottom",dy:103,fontSize:FS,lineAnchor:"middle"}));
  if(leftCol&&r>0) all.push(Plot.text([names[r]],{text:d=>d,frameAnchor:"left",dx:-134,rotate:-90,fontSize:FS,textAnchor:"middle",lineAnchor:"middle"}));
  const svg=Plot.plot({width:ml+(x1-x0)+mr,height:mt+(y1-y0)+mb,marginLeft:ml,marginRight:mr,marginTop:mt,marginBottom:mb,
    style:{background:"transparent",fontFamily:F,color:black,overflow:"visible"},
    x:{domain:colDom[c],axis:null},y:{domain:yDom,axis:null},
    color:{type:"ordinal",domain:levels,range:palette},marks:all});
  svg.style.left=left+"px";svg.style.top=top+"px";
  document.getElementById("c").appendChild(svg);
}
function bars(values,start,step){return values.map((v,i)=>({x1:start+i*step,x2:start+(i+1)*step,y:v}));}
const histMark=(d)=>Plot.rectY(d,{x1:"x1",x2:"x2",y:"y",fill:"#5a98c8",stroke:"#1e3c5c",strokeWidth:1.4});

// x/y cells
const xyMap=new Map();
xyGrid.forEach((row,r)=>{const s=row.replace(/ /g,"");for(let i=0;i<79&&i<s.length;i++)xyMap.set(i+","+r,+s[i]);});
const raise=([r,a,b])=>{for(let i=a;i<=b;i++){const k=i+","+r;const v=xyMap.get(k);if(v>0)xyMap.set(k,Math.min(v+1,7));}};
xyRaised.forEach(raise);xyRaisedCentre.forEach(raise);
xyDark.forEach(([a,b])=>xyMap.set(a+","+b,7));
xyDarkest.forEach(([a,b])=>xyMap.set(a+","+b,8));
xyCoreSpans.forEach(([r,a,b])=>{for(let i=a;i<=b;i++)xyMap.set(i+","+r,8);});
xyCoreSpecks.forEach(([a,b])=>xyMap.set(a+","+b,6));
xyWhite.forEach(([a,b])=>xyMap.set(a+","+b,0));
const xyCells=[...xyMap].filter(e=>e[1]>0).map(([k,l])=>{const[a,b]=k.split(",").map(Number);
  return{x1:xLo+a*xStep,x2:xLo+(a+1)*xStep,y1:1-(b+1)*yStepTop,y2:1-b*yStepTop,level:l};});
const cellMark=d=>Plot.rect(d,{x1:"x1",x2:"x2",y1:"y1",y2:"y2",fill:"level",shapeRendering:"crispEdges"});

function thinCells(bands,holes,pat,sparse,rowH){
  const out=[];const X=c=>xLo+c*xStep;
  bands.forEach(([a,b,c0,c1,l])=>out.push({x1:X(c0),x2:X(c1+1),y1:a/1000,y2:b/1000,level:l}));
  holes.forEach(([y,cs])=>cs.forEach(c=>out.push({x1:X(c),x2:X(c+1),y1:y/1000,y2:y/1000+rowH,level:0})));
  pat.forEach(([y,s])=>{for(let i=0;i<s.length;i++)if(s[i]!=="."){out.push({x1:X(i),x2:X(i+1),y1:y/1000,y2:y/1000+rowH*1.3,level:+s[i]});}});
  sparse.forEach(([y,cs])=>cs.forEach(c=>out.push({x1:X(c),x2:X(c+1),y1:y/1000,y2:y/1000+rowH,level:9})));
  return out;
}
const whCells=wHCore.map(([a,b,c,d,l])=>({x1:c/1000,x2:d/1000,y1:a/1000,y2:b/1000,level:l}));
for(let i=0;i<wHDots.length;i+=2)whCells.push({x1:wHDots[i]/1000,x2:wHDots[i]/1000+0.0018,y1:wHDots[i+1]/1000,y2:wHDots[i+1]/1000+0.003,level:10});

panel(0,0,[histMark(bars(histX,xLo,(0.9964-xLo)/50))],[0,159]);
panel(0,1,[cellMark(xyCells)],rowDom[1]);
panel(1,1,[histMark(bars(histY,xLo,(0.9964-xLo)/50))],[0,1252]);
panel(0,2,[cellMark(thinCells(xWBands,xWHoles,xWPat,xWSparse,0.00125))],rowDom[2]);
panel(1,2,[cellMark(thinCells(yWBands,yWHoles,yWPat,yWSparse,0.00125))],rowDom[2]);
panel(2,2,[histMark(bars(histW,0.003,0.0103))],[0,1437]);
panel(0,3,[cellMark(thinCells(xHBands,xHHoles,xHPat,xHSparse,0.0021))],rowDom[3]);
panel(1,3,[cellMark(thinCells(yHBands,yHHoles,yHPat,yHSparse,0.0021))],rowDom[3]);
panel(2,3,[cellMark(whCells)],rowDom[3]);
panel(3,3,[histMark(bars(histH,0.001,0.0183))],[0,1212]);
</script></body></html>
